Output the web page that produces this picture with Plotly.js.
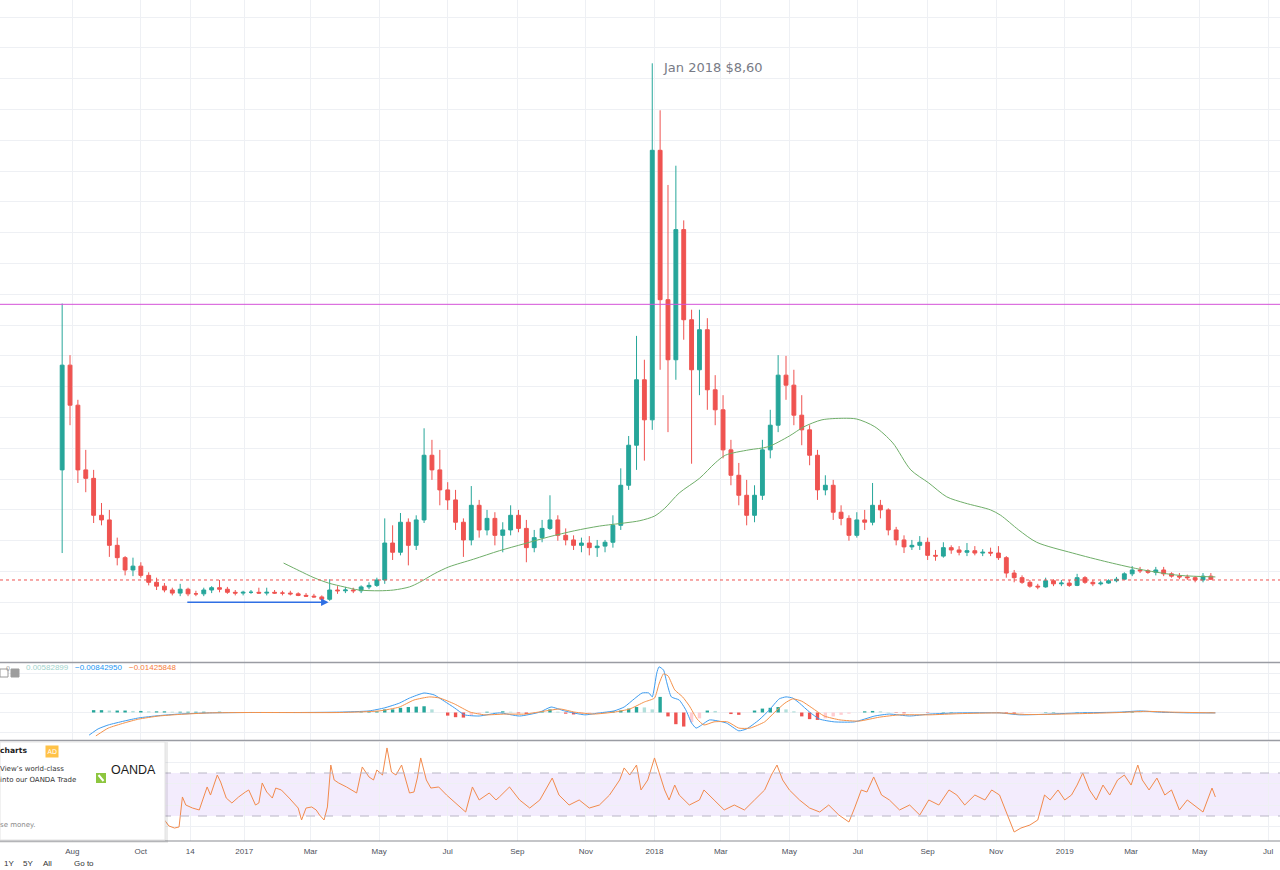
<!DOCTYPE html>
<html><head><meta charset="utf-8">
<script src="https://cdn.plot.ly/plotly-3.0.1.min.js"></script>
<style>html,body{margin:0;padding:0;background:#fff;overflow:hidden}#chart{width:1280px;height:870px}</style>
</head><body><div id="chart"></div>
<script>
// ---------- weekly OHLC (price) ----------
const weekStart = '2016-07-23';
const open = [3.32,4.68,4.16,3.32,3.21,2.73,2.67,2.34,2.18,2.02,
2.07,1.95,1.86,1.81,1.76,1.72,1.77,1.71,1.71,1.76,
1.79,1.77,1.73,1.72,1.73,1.73,1.72,1.73,1.72,1.72,
1.71,1.69,1.68,1.67,1.64,1.76,1.75,1.76,1.75,1.80,
1.82,1.89,2.37,2.25,2.64,2.34,2.67,3.51,3.32,3.06,
2.93,2.64,2.41,2.86,2.54,2.69,2.47,2.54,2.73,2.56,
2.31,2.44,2.56,2.67,2.47,2.41,2.34,2.37,2.31,2.33,
2.38,2.60,3.12,3.64,4.49,3.97,7.47,5.53,4.75,6.44,
5.27,4.62,5.14,4.36,4.10,3.58,3.25,2.99,2.73,2.99,
3.58,3.90,4.55,4.42,4.03,3.84,3.51,3.06,3.12,2.77,
2.69,2.47,2.67,2.64,2.86,2.80,2.54,2.41,2.32,2.34,
2.38,2.21,2.20,2.31,2.28,2.25,2.27,2.24,2.25,2.24,
2.18,1.98,1.92,1.86,1.81,1.80,1.88,1.84,1.85,1.82,
1.92,1.86,1.84,1.85,1.88,1.90,1.97,2.02,2.01,1.99,
2.02,1.97,1.94,1.93,1.92,1.89,1.94];
const high = [5.48,4.81,4.23,3.58,3.32,2.89,2.80,2.44,2.20,2.18,
2.12,1.99,1.92,1.85,1.79,1.84,1.79,1.75,1.79,1.81,
1.89,1.80,1.76,1.75,1.76,1.79,1.79,1.76,1.75,1.75,
1.73,1.72,1.71,1.69,1.90,1.81,1.80,1.79,1.82,1.86,
1.92,2.69,2.60,2.76,2.69,2.73,3.86,3.71,3.58,3.16,
3.06,2.69,3.11,2.93,2.80,2.77,2.64,2.86,2.80,2.67,
2.54,2.67,2.99,2.73,2.56,2.47,2.44,2.46,2.41,2.41,
2.73,3.34,3.76,5.06,4.75,8.60,7.99,7.02,7.27,6.56,
5.40,5.40,5.29,4.55,4.29,3.71,3.41,3.19,3.12,3.71,
4.10,4.81,4.80,4.62,4.29,3.90,3.58,3.25,3.19,2.86,
2.73,2.77,2.80,3.15,2.93,2.82,2.58,2.47,2.41,2.46,
2.44,2.28,2.38,2.34,2.33,2.37,2.33,2.29,2.31,2.33,
2.20,2.02,1.95,1.89,1.84,1.92,1.90,1.89,1.89,1.97,
1.94,1.89,1.88,1.90,1.93,1.99,2.07,2.06,2.03,2.06,
2.06,1.99,1.98,1.96,1.94,1.98,1.98];
const low = [2.24,3.90,3.15,3.03,2.63,2.60,2.19,2.08,1.95,1.94,
1.92,1.82,1.76,1.73,1.69,1.68,1.68,1.68,1.68,1.72,
1.73,1.71,1.69,1.69,1.71,1.71,1.69,1.71,1.69,1.69,
1.68,1.67,1.66,1.63,1.62,1.71,1.72,1.72,1.72,1.77,
1.80,1.84,2.15,2.21,2.08,2.28,2.63,3.19,2.86,2.80,
2.54,2.19,2.34,2.44,2.47,2.34,2.25,2.47,2.51,2.12,
2.25,2.38,2.54,2.40,2.34,2.28,2.25,2.21,2.19,2.25,
2.31,2.54,3.06,3.32,3.44,3.84,4.62,3.81,4.49,5.01,
3.40,4.29,4.10,3.90,3.47,3.12,2.86,2.60,2.64,2.93,
3.47,3.81,4.23,3.90,3.64,3.38,2.93,2.99,2.67,2.60,
2.40,2.44,2.54,2.60,2.69,2.47,2.34,2.24,2.28,2.28,
2.15,2.14,2.18,2.23,2.21,2.20,2.21,2.20,2.20,2.15,
1.92,1.86,1.84,1.79,1.77,1.79,1.81,1.81,1.80,1.81,
1.84,1.81,1.82,1.84,1.86,1.89,1.94,1.98,1.97,1.95,
1.94,1.92,1.90,1.89,1.86,1.86,1.89];
const close = [4.68,4.16,3.32,3.21,2.73,2.67,2.34,2.18,2.02,2.07,
1.95,1.86,1.81,1.76,1.72,1.77,1.71,1.71,1.76,1.79,
1.77,1.73,1.72,1.73,1.73,1.72,1.73,1.72,1.72,1.71,
1.69,1.68,1.67,1.64,1.76,1.75,1.76,1.75,1.80,1.82,
1.89,2.37,2.25,2.64,2.34,2.67,3.51,3.32,3.06,2.93,
2.64,2.41,2.86,2.54,2.69,2.47,2.54,2.73,2.56,2.31,
2.44,2.56,2.67,2.47,2.41,2.34,2.37,2.31,2.33,2.38,
2.60,3.12,3.64,4.49,3.97,7.47,5.53,4.75,6.44,5.27,
4.62,5.14,4.36,4.10,3.58,3.25,2.99,2.73,2.99,3.58,
3.90,4.55,4.42,4.03,3.84,3.51,3.06,3.12,2.77,2.69,
2.47,2.67,2.64,2.86,2.80,2.54,2.41,2.32,2.34,2.38,
2.21,2.20,2.31,2.28,2.25,2.27,2.24,2.25,2.24,2.18,
1.98,1.92,1.86,1.81,1.80,1.88,1.84,1.85,1.82,1.92,
1.86,1.84,1.85,1.88,1.90,1.97,2.02,2.01,1.99,2.02,
1.97,1.94,1.93,1.92,1.89,1.94,1.90];

// ---------- moving average (green) ----------
const maDates = ['2017-02-05','2017-02-19','2017-03-04','2017-03-17','2017-03-31','2017-04-13','2017-05-01','2017-05-14','2017-05-28','2017-06-06','2017-06-19','2017-07-02','2017-07-24','2017-08-16','2017-09-07','2017-09-29','2017-10-22','2017-11-13','2017-12-05','2017-12-19','2018-01-01','2018-01-10','2018-01-23','2018-02-10','2018-02-24','2018-03-05','2018-03-26','2018-04-12','2018-05-01','2018-05-14','2018-05-30','2018-06-18','2018-06-30','2018-07-16','2018-08-01','2018-08-17','2018-09-02','2018-09-18','2018-10-04','2018-10-27','2018-11-05','2018-11-21','2018-12-07','2019-01-08','2019-02-09','2019-03-12','2019-04-13','2019-05-15'];
const maVals = [2.11,2.01,1.92,1.85,1.80,1.76,1.75,1.76,1.80,1.86,1.97,2.06,2.16,2.27,2.36,2.45,2.53,2.59,2.63,2.66,2.72,2.82,3.02,3.21,3.41,3.51,3.58,3.62,3.76,3.88,3.97,3.99,3.98,3.88,3.67,3.32,3.15,2.97,2.89,2.80,2.73,2.54,2.38,2.24,2.12,2.02,1.95,1.93];

// ---------- MACD ----------
const macdDates = ['2016-08-16','2016-08-24','2016-09-02','2016-09-16','2016-09-29','2016-10-17','2016-11-04','2016-12-01','2017-01-05','2017-02-19','2017-03-27','2017-04-22','2017-05-06','2017-05-19','2017-05-28','2017-06-10','2017-06-19','2017-06-28','2017-07-07','2017-07-16','2017-07-29','2017-08-16','2017-09-03','2017-09-21','2017-10-01','2017-10-13','2017-10-31','2017-11-13','2017-11-26','2017-12-05','2017-12-14','2017-12-21','2017-12-27','2017-12-30','2018-01-03','2018-01-05','2018-01-09','2018-01-12','2018-01-16','2018-01-23','2018-01-29','2018-02-03','2018-02-07','2018-02-12','2018-02-19','2018-03-06','2018-03-17','2018-03-24','2018-04-04','2018-04-13','2018-04-22','2018-04-28','2018-05-04','2018-05-10','2018-05-19','2018-05-28','2018-06-10','2018-06-28','2018-07-16','2018-07-29','2018-08-16','2018-09-03','2018-09-29','2018-11-04','2018-11-22','2018-12-10','2019-01-14','2019-02-19','2019-03-09','2019-03-26','2019-04-22','2019-05-15'];
const macdVals = [-0.58,-0.42,-0.32,-0.22,-0.14,-0.08,-0.04,-0.01,0.00,0.00,0.01,0.04,0.12,0.24,0.37,0.50,0.45,0.29,0.12,-0.06,-0.09,-0.01,-0.09,0.01,0.14,0.04,-0.06,-0.01,0.04,0.14,0.35,0.50,0.50,0.40,1.01,1.17,1.09,0.76,0.40,0.32,0.06,-0.27,-0.40,-0.32,-0.19,-0.27,-0.47,-0.42,-0.19,0.06,0.35,0.40,0.37,0.24,0.01,-0.17,-0.24,-0.24,-0.09,-0.04,-0.09,-0.04,-0.01,-0.01,-0.06,-0.05,-0.01,0.01,0.04,0.01,-0.01,-0.01];
const signalDates = ['2016-08-22','2016-09-02','2016-09-16','2016-09-29','2016-10-17','2016-11-04','2016-12-01','2017-01-05','2017-03-27','2017-05-01','2017-05-19','2017-06-01','2017-06-15','2017-06-24','2017-07-07','2017-07-21','2017-08-03','2017-08-21','2017-09-08','2017-09-26','2017-10-09','2017-10-22','2017-11-08','2017-11-26','2017-12-10','2017-12-23','2018-01-01','2018-01-05','2018-01-09','2018-01-13','2018-01-19','2018-01-26','2018-02-01','2018-02-08','2018-02-14','2018-02-23','2018-03-07','2018-03-17','2018-03-27','2018-04-09','2018-04-18','2018-04-27','2018-05-04','2018-05-12','2018-05-21','2018-06-01','2018-06-15','2018-07-02','2018-07-20','2018-08-07','2018-09-03','2018-09-29','2018-11-04','2018-11-26','2018-12-14','2019-01-14','2019-02-19','2019-03-14','2019-04-05','2019-05-15'];
const signalVals = [-0.60,-0.40,-0.27,-0.17,-0.09,-0.05,-0.01,0.00,0.00,0.04,0.14,0.32,0.40,0.37,0.22,0.01,-0.06,-0.04,-0.04,0.04,0.09,0.01,-0.04,0.01,0.09,0.27,0.37,0.73,0.99,0.94,0.58,0.40,0.17,-0.17,-0.32,-0.24,-0.24,-0.40,-0.40,-0.24,0.01,0.24,0.35,0.29,0.12,-0.09,-0.19,-0.22,-0.12,-0.06,-0.06,-0.03,-0.01,-0.05,-0.05,-0.03,0.00,0.03,0.01,-0.01];
const hist = [null,null,null,null,0.06,0.06,0.05,0.05,0.05,0.04,
0.04,0.03,0.03,0.03,0.02,0.02,0.02,0.02,0.02,0.01,
0.02,0.01,0.01,0,0,0.005,0,-0.005,0,-0.005,
-0.005,-0.005,-0.005,-0.01,0.01,0.005,0,0,0.01,0.02,
0.03,0.08,0.08,0.12,0.14,0.15,0.16,0.08,0,-0.08,
-0.12,-0.13,-0.08,-0.03,0.02,0.01,0.03,0.02,-0.02,-0.04,
-0.02,0.03,0.08,0.02,-0.03,-0.05,-0.04,-0.02,-0.01,0.01,
0.03,0.05,0.10,0.14,0.13,0.08,0.40,-0.10,-0.30,-0.36,
-0.25,-0.15,0.05,0.04,0,-0.04,-0.06,0,0.05,0.10,
0.12,0.14,0.08,0.03,-0.10,-0.17,-0.19,-0.15,-0.10,-0.06,
-0.03,0,0.03,0.04,0.03,0.01,-0.01,-0.02,-0.01,0,
-0.01,0,0.01,0.01,0,0,0,0,0,-0.01,
-0.02,-0.03,-0.02,-0.01,0,0.01,0.01,0,0,0.01,
0.01,0,0,0,0.01,0.01,0.02,0.01,0,0,
-0.01,-0.01,-0.01,0,0,0,0.01];
const macdLegend = ['0.00582899','\u22120.00842950','\u22120.01425848'];

// ---------- RSI ----------
const rsiDates = ['2016-10-22','2016-10-26','2016-10-31','2016-11-04','2016-11-07','2016-11-10','2016-11-16','2016-11-22','2016-11-25','2016-11-29','2016-12-02','2016-12-08','2016-12-11','2016-12-16','2016-12-21','2016-12-27','2017-01-02','2017-01-05','2017-01-09','2017-01-11','2017-01-14','2017-01-17','2017-01-21','2017-01-26','2017-01-29','2017-02-03','2017-02-10','2017-02-16','2017-02-18','2017-02-21','2017-02-25','2017-03-02','2017-03-06','2017-03-09','2017-03-13','2017-03-16','2017-03-19','2017-03-22','2017-03-26','2017-04-02','2017-04-07','2017-04-11','2017-04-16','2017-04-22','2017-04-26','2017-04-29','2017-05-04','2017-05-08','2017-05-12','2017-05-16','2017-05-21','2017-05-28','2017-06-01','2017-06-04','2017-06-07','2017-06-12','2017-06-16','2017-06-23','2017-06-30','2017-07-05','2017-07-13','2017-07-17','2017-07-23','2017-07-29','2017-08-07','2017-08-13','2017-08-16','2017-08-25','2017-09-03','2017-09-12','2017-09-21','2017-10-02','2017-10-08','2017-10-17','2017-10-26','2017-11-04','2017-11-13','2017-11-22','2017-12-01','2017-12-05','2017-12-10','2017-12-16','2017-12-20','2017-12-26','2018-01-01','2018-01-05','2018-01-10','2018-01-14','2018-01-19','2018-01-23','2018-02-01','2018-02-10','2018-02-14','2018-02-23','2018-03-04','2018-03-13','2018-03-22','2018-03-31','2018-04-09','2018-04-15','2018-04-20','2018-04-25','2018-05-01','2018-05-10','2018-05-19','2018-05-28','2018-06-05','2018-06-14','2018-06-23','2018-06-28','2018-07-04','2018-07-09','2018-07-15','2018-07-22','2018-07-29','2018-08-07','2018-08-16','2018-08-25','2018-09-02','2018-09-11','2018-09-20','2018-09-27','2018-10-04','2018-10-13','2018-10-22','2018-10-28','2018-11-04','2018-11-11','2018-11-17','2018-11-23','2018-12-01','2018-12-08','2018-12-14','2018-12-19','2018-12-26','2019-01-01','2019-01-07','2019-01-12','2019-01-17','2019-01-23','2019-01-29','2019-02-04','2019-02-10','2019-02-17','2019-02-23','2019-03-01','2019-03-07','2019-03-11','2019-03-17','2019-03-24','2019-03-31','2019-04-06','2019-04-13','2019-04-20','2019-04-26','2019-05-04','2019-05-08','2019-05-12','2019-05-15'];
const rsiVals = [26.3,20.7,18.8,19.8,47.7,40.2,37.4,35.6,44.9,57.0,49.5,68.1,61.6,46.7,42.1,47.7,52.3,54.2,44.9,40.2,42.1,60.7,52.3,46.7,56.0,54.2,46.7,40.2,37.4,26.3,37.4,38.4,35.6,30.9,26.3,38.4,77.4,63.5,60.7,57.0,54.2,51.4,75.6,66.3,63.5,72.8,68.1,93.3,70.9,68.1,77.4,51.4,52.3,65.3,84.0,63.5,56.0,57.0,49.5,44.9,37.4,33.7,57.0,44.9,51.4,44.9,47.7,57.0,44.9,37.4,44.9,65.3,49.5,40.2,44.9,37.4,40.2,49.5,63.5,74.7,68.1,77.4,54.2,63.5,84.0,70.9,54.2,44.9,58.8,49.5,40.2,44.9,54.2,44.9,35.6,40.2,35.6,44.9,54.2,68.1,77.4,63.5,54.2,44.9,37.4,33.7,40.2,30.9,24.4,37.4,54.2,52.3,66.3,49.5,44.9,35.6,40.2,30.9,44.9,40.2,54.2,49.5,40.2,49.5,44.9,54.2,49.5,30.9,15.1,18.8,21.6,26.3,49.5,44.9,54.2,44.9,49.5,58.8,70.0,54.2,44.9,58.8,49.5,63.5,68.1,58.8,77.4,63.5,54.2,65.3,49.5,54.2,35.6,44.9,40.2,33.7,44.9,56.0,47.7];

// ---------- axis ticks & reference levels ----------
const tickDates = ['2016-08-01','2016-10-01','2016-11-14','2017-01-01','2017-03-01','2017-05-01','2017-07-01','2017-09-01','2017-11-01','2018-01-01','2018-03-01','2018-05-01','2018-07-01','2018-09-01','2018-11-01','2019-01-01','2019-03-01','2019-05-01','2019-07-01'];
const tickLabels = ['Aug','Oct','14','2017','Mar','May','Jul','Sep','Nov','2018','Mar','May','Jul','Sep','Nov','2019','Mar','May','Jul'];
const resistanceLevel = 5.47;
const lastPrice = 1.89;
const peakLabel = {date: '2018-01-07', price: 8.54, text: 'Jan 2018 $8,60'};
const arrowFrom = {date: '2016-11-10', price: 1.60};
const arrowTo = {date: '2017-03-17', price: 1.60};
const rsiUpper = 70, rsiLower = 30;
const toolbarItems = ['1Y', '5Y', 'All', 'Go to'];

// ---------- build ----------
const DAY = 86400000;
const t0 = Date.parse(weekStart + 'T00:00:00Z');
const weekDates = open.map((_, i) => new Date(t0 + i * 7 * DAY).toISOString().slice(0, 10));
const histColors = hist.map((v, i) => {
  const p = (i > 0 && hist[i - 1] !== null) ? hist[i - 1] : 0;
  if (v === null) return '#26a69a';
  if (v >= 0) return v >= p ? '#26a69a' : '#b2dfdb';
  return v < p ? '#ef5350' : '#ffcdd2';
});

const W = 1280, PB = 841;
const fx = px => px / W;
const fy = py => (PB - py) / PB;
const GRID = '#eef0f4';
const xRange = ['2016-05-28 16:48', '2019-07-11 12:00'];

const traces = [
  {type: 'candlestick', x: weekDates, open: open, high: high, low: low, close: close,
   xaxis: 'x', yaxis: 'y', whiskerwidth: 0,
   increasing: {line: {color: '#26a69a', width: 1}, fillcolor: '#26a69a'},
   decreasing: {line: {color: '#ef5350', width: 1}, fillcolor: '#ef5350'},
   hoverinfo: 'skip'},
  {type: 'scatter', mode: 'lines', x: maDates, y: maVals, xaxis: 'x', yaxis: 'y',
   line: {color: '#6fae69', width: 1, shape: 'spline', smoothing: 0.8}, hoverinfo: 'skip'},
  {type: 'bar', x: weekDates, y: hist, xaxis: 'x2', yaxis: 'y2', width: 3 * DAY,
   marker: {color: histColors, line: {width: 0}}, hoverinfo: 'skip'},
  {type: 'scatter', mode: 'lines', x: macdDates, y: macdVals, xaxis: 'x2', yaxis: 'y2',
   line: {color: '#3d9cf0', width: 1, shape: 'spline', smoothing: 0.5}, hoverinfo: 'skip'},
  {type: 'scatter', mode: 'lines', x: signalDates, y: signalVals, xaxis: 'x2', yaxis: 'y2',
   line: {color: '#f5924a', width: 1, shape: 'spline', smoothing: 0.5}, hoverinfo: 'skip'},
  {type: 'scatter', mode: 'lines', x: rsiDates, y: rsiVals, xaxis: 'x3', yaxis: 'y3',
   line: {color: '#f28a4c', width: 1}, hoverinfo: 'skip'}
];

const xBase = {type: 'date', range: xRange, tickmode: 'array', tickvals: tickDates, ticktext: tickLabels,
  showgrid: true, gridcolor: GRID, gridwidth: 1, zeroline: false, showline: false, ticks: '',
  fixedrange: true};

const toolbarX = [2, 21, 41, 72];
const toolbarAnn = toolbarItems.map((t, i) => ({xref: 'paper', yref: 'paper', x: fx(toolbarX[i]), y: fy(863),
  xanchor: 'left', yanchor: 'middle', text: t, showarrow: false, font: {size: 8, color: '#333333'}}));

const layout = {
  width: 1280, height: 870,
  margin: {l: 0, r: 0, t: 0, b: 29},
  paper_bgcolor: '#ffffff', plot_bgcolor: '#ffffff',
  showlegend: false, dragmode: false,
  font: {family: 'Liberation Sans, Arial, sans-serif', size: 8, color: '#4c505b'},
  xaxis: Object.assign({}, xBase, {anchor: 'y', showticklabels: false, rangeslider: {visible: false}}),
  xaxis2: Object.assign({}, xBase, {anchor: 'y2', matches: 'x', showticklabels: false}),
  xaxis3: Object.assign({}, xBase, {anchor: 'y3', matches: 'x', showticklabels: true, ticklabelstandoff: 4,
    tickfont: {family: 'Liberation Sans, Arial, sans-serif', size: 8, color: '#4c505b'}}),
  yaxis: {domain: [fy(662), 1], range: [0.825, 9.422], tick0: 0, dtick: 0.4, showticklabels: false,
    showgrid: true, gridcolor: GRID, zeroline: false, fixedrange: true},
  yaxis2: {domain: [fy(740), fy(663)], range: [-0.705, 1.269], tick0: 0, dtick: 0.5, showticklabels: false,
    showgrid: true, gridcolor: GRID, zeroline: false, fixedrange: true},
  yaxis3: {domain: [0, fy(741.5)], range: [6.74, 99.3], tick0: 0, dtick: 20, showticklabels: false,
    showgrid: true, gridcolor: GRID, zeroline: false, fixedrange: true},
  shapes: [
    {type: 'rect', xref: 'paper', yref: 'y3', x0: 0, x1: 1, y0: rsiLower, y1: rsiUpper,
     fillcolor: 'rgba(160,100,235,0.12)', line: {width: 0}, layer: 'below'},
    {type: 'line', xref: 'paper', yref: 'y3', x0: 0, x1: 1, y0: rsiUpper, y1: rsiUpper,
     line: {color: '#b9b6c6', width: 1, dash: 'dash'}},
    {type: 'line', xref: 'paper', yref: 'y3', x0: 0, x1: 1, y0: rsiLower, y1: rsiLower,
     line: {color: '#b9b6c6', width: 1, dash: 'dash'}},
    {type: 'line', xref: 'paper', yref: 'y', x0: 0, x1: 1, y0: resistanceLevel, y1: resistanceLevel,
     line: {color: '#d451d8', width: 1}},
    {type: 'line', xref: 'paper', yref: 'y', x0: 0, x1: 1, y0: lastPrice, y1: lastPrice,
     line: {color: '#ef5350', width: 1, dash: 'dot'}},
    {type: 'line', xref: 'paper', yref: 'paper', x0: 0, x1: 1, y0: fy(662.5), y1: fy(662.5),
     line: {color: '#9a9ca3', width: 1.5}},
    {type: 'line', xref: 'paper', yref: 'paper', x0: 0, x1: 1, y0: fy(740.5), y1: fy(740.5),
     line: {color: '#9a9ca3', width: 1.5}},
    {type: 'line', xref: 'paper', yref: 'paper', x0: 0, x1: 1, y0: fy(841), y1: fy(841),
     line: {color: '#8a8c92', width: 1.2}},
    {type: 'rect', xref: 'paper', yref: 'paper', x0: fx(0), x1: fx(168), y0: fy(843), y1: fy(742),
     fillcolor: 'rgba(0,0,0,0.08)', line: {width: 0}},
    {type: 'rect', xref: 'paper', yref: 'paper', x0: fx(0), x1: fx(165), y0: fy(840), y1: fy(742),
     fillcolor: '#ffffff', line: {color: '#e3e3e3', width: 1}},
    {type: 'rect', xref: 'paper', yref: 'paper', x0: fx(96), x1: fx(106), y0: fy(783), y1: fy(773),
     fillcolor: '#8dc63f', line: {width: 0}},
    {type: 'line', xref: 'paper', yref: 'paper', x0: fx(98.5), x1: fx(103.5), y0: fy(775), y1: fy(781),
     line: {color: '#ffffff', width: 2}},
    {type: 'rect', xref: 'paper', yref: 'paper', x0: fx(0), x1: fx(8), y0: fy(677), y1: fy(669),
     fillcolor: '#ffffff', line: {color: '#9a9a9a', width: 1}},
    {type: 'rect', xref: 'paper', yref: 'paper', x0: fx(11), x1: fx(19), y0: fy(677), y1: fy(669),
     fillcolor: '#9d9d9d', line: {color: '#9d9d9d', width: 1}}
  ],
  annotations: [
    {xref: 'x', yref: 'y', x: peakLabel.date, y: peakLabel.price, text: peakLabel.text, showarrow: false,
     xanchor: 'left', yanchor: 'middle', font: {family: 'DejaVu Sans, sans-serif', size: 13, color: '#787b86'}},
    {xref: 'x', yref: 'y', axref: 'x', ayref: 'y', x: arrowTo.date, y: arrowTo.price,
     ax: arrowFrom.date, ay: arrowFrom.price, text: '', showarrow: true, arrowhead: 2, arrowsize: 1,
     arrowwidth: 1.5, arrowcolor: '#2f6fe4'},
    {xref: 'paper', yref: 'paper', x: fx(4), y: fy(673), text: '()', showarrow: false,
     font: {size: 6, color: '#8a8a8a'}},
    {xref: 'paper', yref: 'paper', x: fx(15), y: fy(673), text: '\u00d7', showarrow: false,
     font: {size: 9, color: '#ffffff'}},
    {xref: 'paper', yref: 'paper', x: fx(24), y: fy(673.5), xanchor: 'left', text: macdLegend[0], showarrow: false,
     font: {size: 8, color: '#9fd4cd'}},
    {xref: 'paper', yref: 'paper', x: fx(73), y: fy(673.5), xanchor: 'left', text: macdLegend[1], showarrow: false,
     font: {size: 8, color: '#2196f3'}},
    {xref: 'paper', yref: 'paper', x: fx(127), y: fy(673.5), xanchor: 'left', text: macdLegend[2], showarrow: false,
     font: {size: 8, color: '#f57c3a'}},
    {xref: 'paper', yref: 'paper', x: fx(-2), y: fy(757), xanchor: 'left', text: '<b>charts</b>', showarrow: false,
     font: {family: 'DejaVu Sans, sans-serif', size: 7.6, color: '#222222'}},
    {xref: 'paper', yref: 'paper', x: fx(44.5), y: fy(757.5), text: 'AD', showarrow: false,
     bgcolor: '#ffc247', borderpad: 1.5, font: {family: 'DejaVu Sans, sans-serif', size: 6.5, color: '#ffffff'}},
    {xref: 'paper', yref: 'paper', x: fx(-2), y: fy(775), xanchor: 'left', text: "View\u2019s world-class", showarrow: false,
     font: {family: 'DejaVu Sans, sans-serif', size: 7, color: '#333333'}},
    {xref: 'paper', yref: 'paper', x: fx(-2), y: fy(786), xanchor: 'left', text: 'into our OANDA Trade', showarrow: false,
     font: {family: 'DejaVu Sans, sans-serif', size: 7, color: '#333333'}},
    {xref: 'paper', yref: 'paper', x: fx(-2), y: fy(830.5), xanchor: 'left', text: 'se money.', showarrow: false,
     font: {family: 'DejaVu Sans, sans-serif', size: 7, color: '#888888'}},
    {xref: 'paper', yref: 'paper', x: fx(109), y: fy(778.5), xanchor: 'left', text: 'OANDA', showarrow: false,
     font: {family: 'Liberation Sans, Arial, sans-serif', size: 12.5, color: '#1c1c1c'}}
  ].concat(toolbarAnn)
};

Plotly.newPlot('chart', traces, layout, {displayModeBar: false, staticPlot: true});
</script></body></html>
